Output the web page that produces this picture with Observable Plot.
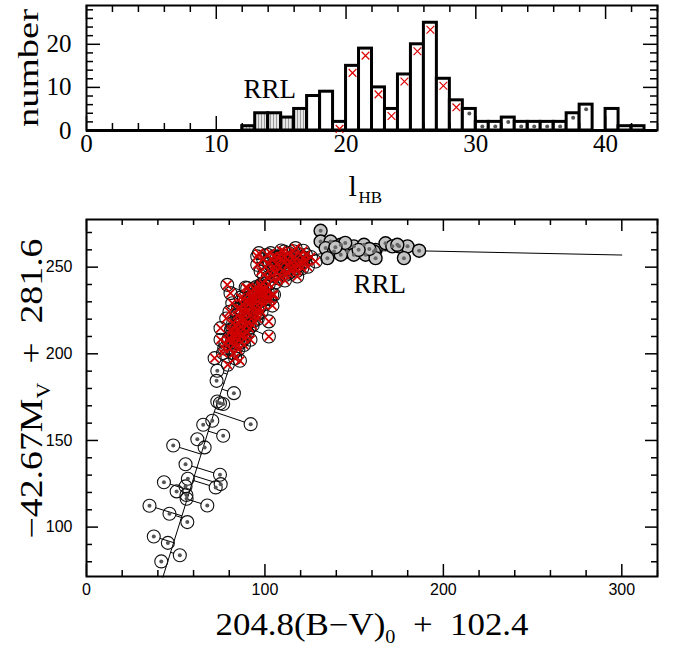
<!DOCTYPE html>
<html><head><meta charset="utf-8">
<script src="https://cdn.jsdelivr.net/npm/d3@7"></script>
<script src="https://cdn.jsdelivr.net/npm/@observablehq/plot@0.6"></script>
<style>
body{margin:0;background:#fff;}
#chart svg{display:block;background:#fff;}
</style></head><body><div id="chart"></div>
<script>
// ---------- top panel: l_HB histogram ----------
const binStart = [12,13,14,15,16,17,18,19,20,21,22,23,24,25,26,27,28,29,30,31,32,33,34,35,36,37,38,39,40,41,42,43];
const binCount = [1,4,4,3,5,8,9,2,15,19,10,5,13,20,25,12,7,5,2,2,3,2,2,2,2,4,6,0,5,1,1,0];
const binKind  = ["rrl","rrl","rrl","rrl","rrl","plain","plain","red","red","red","red","red","red","red","red","red","red",
                  "blue","blue","blue","blue","blue","blue","blue","blue","blue","blue","plain","plain","plain","plain","plain"];
const histXTicks = [0,10,20,30,40];
const histYTicks = [0,10,20];

// ---------- bottom panel: CMD ----------
const redX = [71.8,79.2,86.0,75.1,75.1,79.8,78.9,80.7,81.7,88.2,91.9,102.2,102.2,104.1,80.5,82.4,84.1,83.0,86.2,85.3,88.1,87.2,90.3,89.4,92.1,91.0,94.2,93.3,96.1,95.2,98.3,97.4,100.1,99.2,84.3,86.1,82.2,78.3,80.1,90.2,93.1,96.0,85.1,88.3,98.1,101.2,92.3,89.2,86.3,102.1,104.2,83.3,77.2,81.1,87.5,91.5,94.5,97.0,95.5,89.8,86.8,83.5,99.5,
  83.8,85.6,87.4,89.0,90.7,92.5,94.1,86.7,88.9,90.6,92.8,94.6,96.8,84.9,82.5,81.3,84.6,87.8,91.3,93.7,95.9,98.6,100.6,97.8,86.0,88.6,83.2,80.9,79.4,77.8,76.5,95.0,99.0,101.5,103.0,
  95.7,95.7,101.3,105.0,97.6,96.6,103.2,110.7,117.2,121.9,105.1,114.4,120.9,108.8,118.1,128.4,99.4,97.6,90.1,105.1,107.0,110.2,112.3,115.1,113.2,116.4,119.1,108.3,102.2,104.1,100.3,111.2,124.1,123.0,117.3,106.2,109.1,113.3,99.0,106.5,121.5,
  103.5,106.8,109.9,112.8,115.6,118.5,121.2,104.6,108.2,111.5,114.6,117.9,101.6,107.4,110.6,116.0,119.8,122.6,125.8];
const redY = [197.5,193.7,196.0,214.8,208.1,209.0,239.8,235.0,229.2,232.1,208.1,218.7,210.0,234.1,203.0,200.2,206.3,212.1,210.4,217.2,214.5,220.3,218.1,224.2,222.4,228.3,226.1,231.8,230.2,236.0,233.9,238.8,237.5,228.4,222.1,226.3,218.0,220.4,224.3,212.3,216.4,220.2,202.3,205.1,224.2,232.0,236.1,238.3,232.4,240.2,227.8,197.4,203.1,214.2,228.5,232.8,234.2,226.8,222.6,216.2,206.8,209.4,235.6,
  213.5,219.0,223.6,227.0,230.4,233.5,237.2,215.3,219.8,223.9,228.1,231.1,234.7,226.1,209.8,206.5,204.4,210.9,214.8,218.9,224.8,230.7,234.3,236.9,212.6,208.7,216.4,212.8,207.5,205.9,200.4,238.5,240.6,236.2,231.4,
  251.4,256.2,257.2,256.2,247.5,258.1,258.1,259.0,261.0,255.2,250.4,249.4,249.4,244.6,244.6,253.3,245.6,239.8,237.9,234.1,252.3,248.1,254.2,252.4,246.3,256.2,253.0,256.1,252.0,245.2,250.1,242.3,250.2,257.1,249.2,241.3,259.6,258.2,254.5,247.0,259.5,
  254.8,255.7,253.6,251.8,254.9,250.8,252.6,248.1,250.0,245.5,247.6,247.8,244.2,243.6,256.4,259.2,256.9,253.4,255.9];
const blueX = [76.6,74.8,92.0,70.5,65.4,76.6,62.1,66.2,48.6,55.5,74.8,43.4,56.8,75.2,72.4,55.5,50.5,56.1,67.7,35.3,46.5,56.5,37.7,45.6,52.3,41.9,73.3,72.9,82.6,73.3,56.0];
const blueY = [171.0,171.5,159.4,161.4,159.1,152.7,150.7,146.0,147.1,136.3,130.2,125.9,127.9,124.8,122.9,123.5,120.6,116.4,112.5,112.3,107.7,102.9,94.6,90.9,83.8,80.2,190.2,184.4,177.3,172.5,118.5];
const rrlX = [131.2,131.2,136.8,134.0,138.7,142.5,146.2,149.8,149.8,155.5,156.4,162.0,135.0,142.5,161.1,162.0,167.6,171.4,175.2,179.9,177.9,186.4,174.2,145.0,158.5,152.5,139.5];
const rrlY = [271.0,264.8,264.8,261.0,259.0,262.9,259.0,262.0,257.2,262.9,257.2,260.0,255.2,257.2,259.0,255.2,263.8,262.0,262.0,262.0,255.2,259.5,262.9,264.0,260.5,260.0,261.5];
const ridgeX = [42.8,71.4,80,87,95,103,113,125,140,187,300];
const ridgeY = [71.1,165.8,192,214,233,245,252,256.5,259.5,259.4,257];
const cmdXTicks = [0,100,200,300];
const cmdYTicks = [100,150,200,250];

// ---------- helpers ----------
const W = 675;
function frameTicks(xd, yd, pw, ph, xMaj, xMin, yMaj, yMin, majL, minL, sw) {
  const kx = (xd[1]-xd[0])/pw, ky = (yd[1]-yd[0])/ph;
  const xt = [...xMin.filter(v => !xMaj.includes(v)).map(v => ({v, l: minL})), ...xMaj.map(v => ({v, l: majL}))];
  const yt = [...yMin.filter(v => !yMaj.includes(v)).map(v => ({v, l: minL})), ...yMaj.map(v => ({v, l: majL}))];
  return [
    Plot.ruleX(xt, {x: "v", y1: yd[0], y2: d => yd[0] + d.l*ky, strokeWidth: sw}),
    Plot.ruleX(xt, {x: "v", y1: yd[1], y2: d => yd[1] - d.l*ky, strokeWidth: sw}),
    Plot.ruleY(yt, {y: "v", x1: xd[0], x2: d => xd[0] + d.l*kx, strokeWidth: sw}),
    Plot.ruleY(yt, {y: "v", x1: xd[1], x2: d => xd[1] - d.l*kx, strokeWidth: sw})
  ];
}
function rich(svg, content, pieces, length) {
  d3.select(svg).selectAll("text").filter(function() { return this.textContent === content; }).each(function() {
    const t = d3.select(this);
    t.text(null);
    pieces.forEach(p => {
      const s = t.append("tspan").text(p.text);
      if (p.size) s.attr("font-size", p.size);
      if (p.dy) s.attr("dy", p.dy);
    });
    if (length) t.attr("textLength", length).attr("lengthAdjust", "spacingAndGlyphs");
  });
}

// ---------- top chart ----------
const topM = {t: 5, r: 18, b: 80, l: 86, h: 210};
const hx = [0, 44], hy = [0, 29];
const bins = binStart.map((s, i) => ({x1: s, x2: s + 1, xm: s + 0.5, count: binCount[i], kind: binKind[i]}));
const serif = "Liberation Serif, Times New Roman, serif";

const topSvg = Plot.plot({
  width: W, height: topM.h,
  marginTop: topM.t, marginRight: topM.r, marginBottom: topM.b, marginLeft: topM.l,
  style: {fontFamily: serif, fontSize: "25px", color: "black", background: "white"},
  x: {domain: hx, label: null},
  y: {domain: hy, label: null},
  marks: [
    Plot.rectY(bins.filter(d => d.kind === "rrl"), {x1: "x1", x2: "x2", y1: 0, y2: "count", fill: "url(#hatch)", stroke: "black", strokeWidth: 3}),
    Plot.rectY(bins.filter(d => d.kind !== "rrl"), {x1: "x1", x2: "x2", y1: 0, y2: "count", fill: "white", stroke: "black", strokeWidth: 3}),
    Plot.ruleY([0], {x1: hx[0], x2: hx[1], strokeWidth: 3}),
    Plot.dot(bins.filter(d => d.kind === "red"), {x: "xm", y: "count", dy: 7, symbol: "times", r: 3.6, stroke: "#dd0000", strokeWidth: 1.2}),
    Plot.dot(bins.filter(d => d.kind === "blue"), {x: "xm", y: "count", dy: 4.5, r: 2, fill: "#555", stroke: null}),
    Plot.frame({strokeWidth: 2}),
    ...frameTicks(hx, hy, W - topM.l - topM.r, topM.h - topM.t - topM.b, histXTicks, d3.range(0, 45, 2), histYTicks, d3.range(0, 29, 2), 14, 7, 1.5),
    Plot.axisX(histXTicks, {anchor: "bottom", tickSize: 0, tickPadding: 4, label: null}),
    Plot.axisY(histYTicks, {anchor: "left", tickSize: 0, tickPadding: 15, label: null}),
    Plot.text(["RRL"], {frameAnchor: "top-left", lineAnchor: "middle", dx: 157, dy: 83.5, textAnchor: "start", fontSize: 27}),
    Plot.text(["number"], {frameAnchor: "left", lineAnchor: "middle", dx: -58.5, dy: 59, rotate: -90, textAnchor: "start", fontSize: 30}),
    Plot.text(["l"], {frameAnchor: "bottom-left", lineAnchor: "middle", dx: 262, dy: 55.5, textAnchor: "start", fontSize: 30}),
    Plot.text(["HB"], {frameAnchor: "bottom-left", lineAnchor: "middle", dx: 272, dy: 67.5, textAnchor: "start", fontSize: 17})
  ]
});
const defs = d3.select(topSvg).insert("defs", ":first-child");
const pat = defs.append("pattern").attr("id", "hatch").attr("patternUnits", "userSpaceOnUse").attr("width", 3).attr("height", 6);
pat.append("rect").attr("width", 3).attr("height", 6).attr("fill", "#e6e6e6");
pat.append("rect").attr("x", 0).attr("width", 1).attr("height", 6).attr("fill", "#9a9a9a");
rich(topSvg, "number", [{text: "number"}], 118);

// ---------- bottom chart ----------
const botM = {t: 9, r: 18, b: 72, l: 86, h: 438};
const cx = [0, 320], cy = [71.5, 277.5];
const pw = W - botM.l - botM.r, ph = botM.h - botM.t - botM.b;
const sx = pw / (cx[1] - cx[0]), sy = ph / (cy[1] - cy[0]);
function project(x, y) {
  let best = null, bd = Infinity;
  const px = x * sx, py = y * sy;
  for (let i = 0; i < ridgeX.length - 1; i++) {
    const ax = ridgeX[i]*sx, ay = ridgeY[i]*sy, bx = ridgeX[i+1]*sx, by = ridgeY[i+1]*sy;
    const dx = bx - ax, dy = by - ay;
    let t = ((px - ax)*dx + (py - ay)*dy) / (dx*dx + dy*dy);
    t = Math.max(0, Math.min(1, t));
    const qx = ax + t*dx, qy = ay + t*dy;
    const d = (px - qx)**2 + (py - qy)**2;
    if (d < bd) { bd = d; best = {px: qx / sx, py: qy / sy, dist: Math.sqrt(d)}; }
  }
  return best;
}
const red = redX.map((x, i) => ({x, y: redY[i]}));
const blue = blueX.map((x, i) => ({x, y: blueY[i]}));
const rrl = rrlX.map((x, i) => ({x, y: rrlY[i]}));
const ridge = ridgeX.map((x, i) => ({x, y: ridgeY[i]}));
const links = [...red, ...blue, ...rrl].map(d => ({...d, ...project(d.x, d.y)})).filter(d => d.dist > 6.5);

const botSvg = Plot.plot({
  width: W, height: botM.h,
  marginTop: botM.t, marginRight: botM.r, marginBottom: botM.b, marginLeft: botM.l,
  style: {fontFamily: "Liberation Sans, Arial, sans-serif", fontSize: "16px", color: "black", background: "white"},
  x: {domain: cx, label: null},
  y: {domain: cy, label: null},
  marks: [
    Plot.arrow(links, {x1: "x", y1: "y", x2: "px", y2: "py", insetStart: 6.5, insetEnd: 0, headLength: 0, stroke: "black", strokeWidth: 1}),
    Plot.line(ridge, {x: "x", y: "y", stroke: "black", strokeWidth: 1}),
    Plot.dot(rrl, {x: "x", y: "y", r: 6.5, fill: "#c4c4c4", stroke: "black", strokeWidth: 1.4}),
    Plot.dot(rrl, {x: "x", y: "y", r: 2, fill: "#666", stroke: null}),
    Plot.dot(red, {x: "x", y: "y", r: 6.5, fill: "none", stroke: "#111", strokeWidth: 1.1}),
    Plot.dot(red, {x: "x", y: "y", symbol: "times", r: 3.9, stroke: "#d00000", strokeWidth: 1.7}),
    Plot.dot(blue, {x: "x", y: "y", r: 6.5, fill: "none", stroke: "#111", strokeWidth: 1.1}),
    Plot.dot(blue, {x: "x", y: "y", r: 2, fill: "#555", stroke: null}),
    Plot.frame({strokeWidth: 2}),
    ...frameTicks(cx, cy, pw, ph, cmdXTicks, d3.range(0, 321, 20), cmdYTicks, d3.range(80, 277, 10), 12, 6, 1.5),
    Plot.axisX(cmdXTicks, {anchor: "bottom", tickSize: 0, tickPadding: 7, label: null}),
    Plot.axisY(cmdYTicks, {anchor: "left", tickSize: 0, tickPadding: 14, label: null}),
    Plot.text(["RRL"], {frameAnchor: "top-left", lineAnchor: "middle", dx: 267, dy: 64.5, textAnchor: "start", fontSize: 27, fontFamily: serif}),
    Plot.text(["XTITLE"], {frameAnchor: "bottom", lineAnchor: "middle", dx: 0, dy: 49, fontSize: 31, fontFamily: serif}),
    Plot.text(["YTITLE"], {frameAnchor: "left", lineAnchor: "middle", dx: -54, dy: 140.5, rotate: -90, textAnchor: "start", fontSize: 31, fontFamily: serif})
  ]
});
rich(botSvg, "XTITLE", [{text: "204.8(B\u2212V)"}, {text: "0", size: 18, dy: 8}, {text: "  +  102.4", dy: -8}], 313);
rich(botSvg, "YTITLE", [{text: "\u221242.67M"}, {text: "V", size: 18, dy: 8}, {text: "  +  281.6", dy: -8}], 300);

const root = document.getElementById("chart");
root.appendChild(topSvg);
root.appendChild(botSvg);
</script></body></html>
